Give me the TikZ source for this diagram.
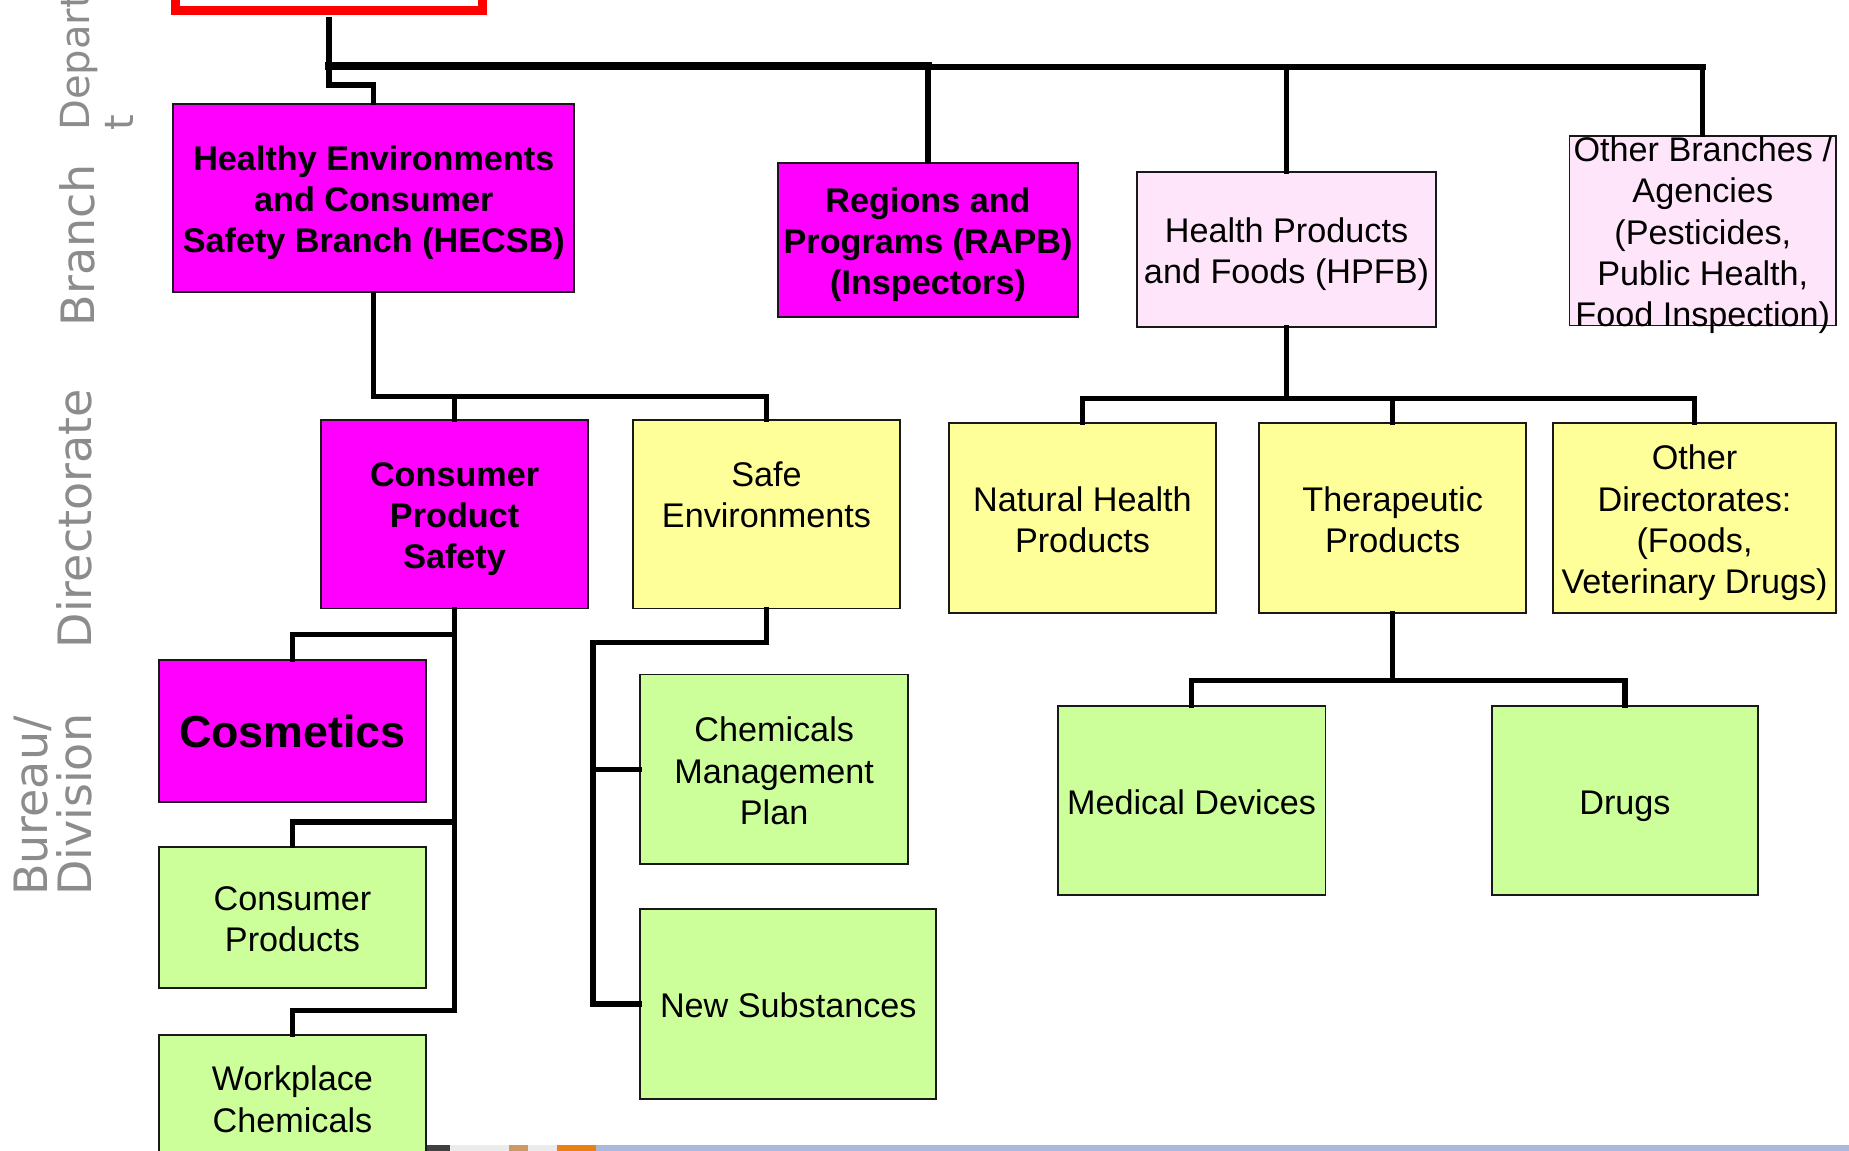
\documentclass[tikz,border=0pt]{standalone}
\usepackage{fontspec}
\setmainfont{Liberation Sans}
\newfontfamily\lblfont{DejaVu Sans}
\definecolor{mag}{RGB}{255,0,255}
\definecolor{ylw}{RGB}{255,255,153}
\definecolor{grn}{RGB}{204,255,153}
\definecolor{pnk}{RGB}{255,229,250}
\definecolor{lvl}{RGB}{140,140,140}
\definecolor{strip}{RGB}{168,184,222}
\newcommand\topstr{\rule{0pt}{30pt}}
\newcommand\botstr{\rule[-7pt]{0pt}{7pt}}
\begin{document}
\begin{tikzpicture}[x=1pt,y=-1pt,
  box/.style={draw=black!90,line width=1.6pt,rectangle,inner sep=0pt,align=center,font=\fontsize{29}{35}\selectfont},
  magbox/.style={box,fill=mag,font=\bfseries\fontsize{29}{35}\selectfont},
  ylwbox/.style={box,fill=ylw},
  grnbox/.style={box,fill=grn},
  pnkbox/.style={box,fill=pnk},
  conn/.style={line width=4.5pt,line cap=rect,line join=miter},
  lvltext/.style={rotate=90,anchor=base west,text=lvl,font=\lblfont\fontsize{39}{39}\selectfont,inner sep=0pt}]
\useasboundingbox (0,0) rectangle (1568,976);
\clip (0,0) rectangle (1568,976);

% level labels
\node[lvltext,font=\lblfont\fontsize{34}{34}\selectfont] (lvdep) at (76,111) {Departmen};
\node[lvltext,font=\lblfont\fontsize{34}{34}\selectfont] (lvdept) at (113,111) {t};
\node[lvltext] (lvbr) at (80,277) {Branch};
\node[lvltext] (lvdir) at (78,550) {Directorate};
\node[lvltext] (lvbu) at (40,760) {Bureau/};
\node[lvltext] (lvdiv) at (78,760) {Division};

% department
\node[draw=red,line width=8pt,fill=white,minimum width=260,minimum height=80,inner sep=0pt] (dept) at (279,-31) {};

% branches
\node[magbox,minimum width=340,minimum height=160] (hecsb) at (317,168) {\topstr Healthy Environments\\and Consumer\\Safety Branch (HECSB)\botstr};
\node[magbox,minimum width=254,minimum height=131] (rapb) at (787,203.5) {\topstr Regions and\\Programs (RAPB)\\(Inspectors)\botstr};
\node[pnkbox,minimum width=254,minimum height=131] (hpfb) at (1091,211.5) {\topstr Health Products\\and Foods (HPFB)\botstr};
\node[pnkbox,minimum width=226,minimum height=161,
  label={[align=center,font=\fontsize{29}{35}\selectfont,inner sep=0pt]center:\topstr Other Branches /\\Agencies\\(Pesticides,\\Public Health,\\Food Inspection)\botstr}] (other) at (1444,195.5) {};

% directorates
\node[magbox,minimum width=227,minimum height=160] (cps) at (385.5,436) {\topstr Consumer\\Product\\Safety\botstr};
\node[ylwbox,minimum width=226,minimum height=160] (safe) at (650,436) {\topstr Safe\\Environments\\\botstr};
\node[ylwbox,minimum width=226,minimum height=161] (nhp) at (918,439.5) {\topstr Natural Health\\Products\botstr};
\node[ylwbox,minimum width=226,minimum height=161] (tp) at (1181,439.5) {\topstr Therapeutic\\Products\botstr};
\node[ylwbox,minimum width=240,minimum height=161] (odir) at (1437,439.5) {\topstr Other\\Directorates:\\(Foods,\\Veterinary Drugs)\botstr};

% bureaux / divisions
\node[magbox,minimum width=226,minimum height=120,font=\bfseries\fontsize{38}{44}\selectfont] (cosm) at (248,620) {Cosmetics};
\node[grnbox,minimum width=226,minimum height=120] (cprod) at (248,778) {\topstr Consumer\\Products\botstr};
\node[grnbox,minimum width=226,minimum height=106] (work) at (248,931) {\topstr Workplace\\Chemicals\botstr};
\node[grnbox,minimum width=227,minimum height=161] (cmp) at (656.5,652.5) {\topstr Chemicals\\Management\\Plan\botstr};
\node[grnbox,minimum width=251,minimum height=161] (ns) at (668.5,851.5) {\topstr New Substances\botstr};
\node[grnbox,minimum width=227,minimum height=160] (md) at (1010.5,679) {\topstr Medical Devices\botstr};
\node[grnbox,minimum width=226,minimum height=160] (drugs) at (1378,679) {\topstr Drugs\botstr};

% connector helper coordinates
\coordinate (busA) at (0,56);
\coordinate (busB) at (0,57);
\coordinate (hb) at (0,336);
\coordinate (pb) at (0,338);
\coordinate (cb1) at (0,538);
\coordinate (cb2) at (0,697);
\coordinate (cb3) at (0,857);
\coordinate (s1) at (503,545);
\coordinate (t1) at (1181,577);

% connectors
\draw[conn] ([yshift=-4pt]dept.south) -- ++(0,55) -| (hecsb.north);
\draw[conn,line width=7pt] (dept.south |- busA) -- (rapb.north |- busA);
\draw[conn,line width=5.5pt] (rapb.north |- busB) -- (other.north |- busB);
\draw[conn] (rapb.north) -- (rapb.north |- busB);
\draw[conn] (hpfb.north) -- (hpfb.north |- busB);
\draw[conn] (other.north) -- (other.north |- busB);

\draw[conn] (hecsb.south) |- (safe.north |- hb) -- (safe.north);
\draw[conn] (cps.north) -- (cps.north |- hb);

\draw[conn] (hpfb.south) -- (hpfb.south |- pb);
\draw[conn] (nhp.north) |- (odir.north |- pb) -- (odir.north);
\draw[conn] (tp.north) -- (tp.north |- pb);

\draw[conn] (cps.south) -- (cps.south |- cb3) -| (work.north);
\draw[conn] (cps.south |- cb1) -| (cosm.north);
\draw[conn] (cps.south |- cb2) -| (cprod.north);

\draw[conn] (safe.south) |- (s1) |- (ns.west);
\draw[conn] (s1 |- cmp.west) -- (cmp.west);

\draw[conn] (tp.south) -- (t1);
\draw[conn] (md.north) |- (t1) -| (drugs.north);

% bottom strip (photo fragments)
\fill[strip] (505,971) rectangle (1568,976);
\fill[black!75] (362,971) rectangle (382,976);
\fill[black!8] (382,971) rectangle (432,976);
\fill[brown!80] (432,971) rectangle (448,976);
\fill[black!8] (448,971) rectangle (472,976);
\fill[orange!70!brown] (472,971) rectangle (505,976);
\end{tikzpicture}
\end{document}
